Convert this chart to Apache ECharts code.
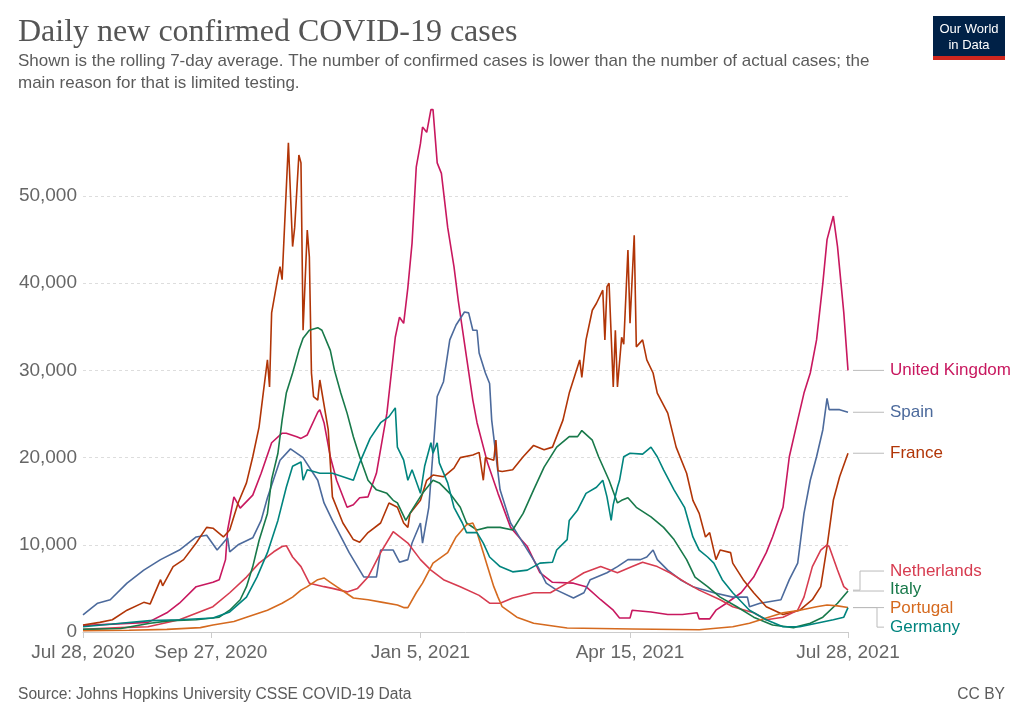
<!DOCTYPE html>
<html><head><meta charset="utf-8">
<script src="https://cdn.jsdelivr.net/npm/echarts@6/dist/echarts.min.js"></script>
<style>html,body{margin:0;padding:0;background:#fff}#c{width:1024px;height:723px}</style>
</head><body><div id="c"></div>
<script>
// x = days since Jul 28, 2020 ; y = 7-day average of daily new cases
const tickDays = [0, 61, 161, 261, 365];
const tickLabels = ['Jul 28, 2020', 'Sep 27, 2020', 'Jan 5, 2021', 'Apr 15, 2021', 'Jul 28, 2021'];
const seriesNames = ['United Kingdom', 'Spain', 'France', 'Netherlands', 'Italy', 'Portugal', 'Germany'];

const ukData = [[0,750],[14,900],[31,1100],[40,2200],[46,3300],[54,5200],[62,5700],[65,6000],[68,8300],[69,11700],[72,15500],[75,14200],[81,15700],[85,18200],[90,21700],[95,22800],[97,22800],[102,22400],[104,22200],[107,22600],[112,25200],[113,25500],[115,24000],[118,20100],[121,17400],[126,14300],[129,14600],[132,15400],[136,15500],[140,18200],[145,25100],[149,33800],[151,36100],[153,35400],[155,39500],[157,44600],[159,53300],[161,56000],[162,57900],[164,57300],[166,59900],[167,59900],[169,53800],[171,52600],[174,46400],[177,41900],[179,38100],[183,31500],[186,26600],[188,24000],[193,19400],[198,15900],[204,12000],[209,10600],[212,9800],[218,6800],[224,5700],[234,5600],[240,5200],[247,3700],[253,2500],[256,1600],[261,1600],[262,2500],[271,2300],[279,2000],[286,2000],[293,2200],[294,1500],[299,1500],[302,2500],[307,3300],[314,4500],[320,6300],[326,9100],[329,10900],[334,14300],[337,20100],[341,24300],[344,27400],[347,29700],[350,33500],[353,40000],[355,45000],[358,47700],[360,44200],[363,36600],[365,30000]];

const spainData = [[0,1950],[7,3300],[13,3700],[21,5600],[29,7100],[37,8300],[46,9400],[54,10900],[59,11100],[64,9400],[69,10800],[70,9200],[74,10000],[81,10800],[85,12800],[88,15400],[94,19700],[99,21000],[105,20000],[112,17400],[115,14800],[119,12800],[127,9100],[134,6300],[140,6300],[142,9400],[148,9400],[151,8000],[155,8300],[157,10200],[161,12500],[162,10200],[165,14300],[169,27000],[172,28700],[175,33500],[178,35200],[182,36700],[184,36600],[186,34600],[188,34600],[189,32000],[192,29700],[194,28500],[195,24300],[199,16300],[204,12500],[210,10200],[217,7500],[221,5600],[226,4800],[234,3900],[239,4500],[242,6000],[250,6800],[255,7500],[260,8300],[266,8300],[269,8600],[272,9400],[274,8300],[279,7100],[285,6000],[291,5200],[301,4500],[310,4000],[317,4000],[318,2900],[323,3300],[333,3700],[337,6000],[341,7900],[344,13600],[347,17400],[350,20100],[353,23200],[355,26800],[356,25500],[361,25500],[365,25200]];

const franceData = [[0,800],[8,1100],[14,1400],[21,2500],[29,3400],[32,3200],[37,6000],[38,5300],[43,7500],[48,8300],[54,10200],[59,12000],[62,11900],[67,10900],[70,11700],[74,14800],[78,17100],[81,20100],[84,23500],[86,27400],[88,31200],[89,28100],[90,36600],[93,40700],[94,41900],[95,40400],[98,56100],[100,44200],[101,46400],[103,54700],[104,53800],[105,34600],[107,46100],[108,43000],[109,29700],[110,27000],[112,26600],[113,28900],[117,23200],[119,15500],[124,12500],[129,10600],[132,10300],[136,11400],[142,12500],[146,14800],[150,14300],[153,12500],[155,12000],[156,13600],[161,15100],[164,17400],[167,18000],[172,17800],[177,18800],[180,20000],[186,20300],[189,20600],[191,17400],[192,20000],[196,19700],[197,22000],[198,18500],[200,18400],[205,18600],[210,20100],[215,21400],[220,20900],[224,21200],[229,24300],[232,27400],[237,31200],[238,29200],[240,33500],[243,36900],[245,37700],[248,39200],[249,33500],[250,39600],[251,40000],[253,28100],[254,34600],[255,28100],[257,33800],[258,33000],[260,43800],[261,35400],[263,45500],[264,32700],[267,33500],[269,31200],[272,29700],[274,27400],[279,25100],[283,21200],[288,18200],[291,15100],[294,13600],[297,10900],[299,11400],[302,8300],[304,9400],[309,9100],[310,7900],[315,6000],[320,4500],[326,2900],[334,2000],[342,2500],[348,3700],[352,5200],[355,9800],[358,15100],[361,17800],[365,20500]];

const netherlandsData = [[0,300],[18,500],[31,600],[46,1400],[62,2900],[70,4500],[78,6300],[84,7900],[91,9200],[95,9800],[97,9900],[100,8600],[104,7500],[108,5600],[115,5200],[119,5000],[126,4600],[131,5000],[136,6300],[142,9100],[148,11500],[155,10200],[161,8300],[166,7100],[172,6000],[180,5200],[189,4200],[194,3300],[199,3300],[205,3900],[215,4500],[223,4500],[231,5600],[239,6800],[247,7500],[255,6800],[262,7500],[267,8000],[274,7500],[280,6800],[288,5600],[294,4800],[304,3700],[310,2900],[320,2200],[326,1400],[334,1700],[341,2500],[344,4000],[348,7500],[352,9400],[355,10000],[356,9800],[360,7100],[363,5200],[365,4800]];

const italyData = [[0,300],[18,400],[32,1000],[42,1300],[54,1400],[65,1700],[70,2500],[75,3700],[78,5200],[81,7500],[84,10500],[88,13600],[90,17500],[93,20500],[95,24300],[97,27400],[100,29700],[103,32300],[105,33700],[108,34600],[112,34900],[114,34600],[118,32300],[120,30000],[123,27400],[126,25100],[129,22400],[132,20100],[136,17400],[140,16300],[145,15900],[148,15100],[150,14800],[154,12800],[157,14000],[162,15900],[167,17400],[170,17100],[175,15900],[180,14300],[183,12500],[188,11700],[193,12000],[199,12000],[205,11700],[210,13600],[215,16300],[220,18900],[226,21200],[232,22400],[236,22400],[238,23100],[243,22000],[246,20100],[251,17400],[255,14800],[257,15100],[260,15400],[264,14300],[271,13200],[277,12000],[282,10600],[288,8300],[292,6300],[298,5200],[304,4000],[312,2900],[320,1700],[329,800],[339,500],[347,1000],[353,1700],[360,3300],[365,4700]];

const portugalData = [[0,150],[22,200],[40,300],[56,500],[62,800],[72,1200],[78,1700],[88,2500],[95,3300],[100,4000],[104,4800],[107,5200],[112,6000],[115,6200],[118,5700],[121,5200],[129,3900],[136,3700],[143,3400],[150,3100],[153,2800],[155,2800],[159,4500],[162,5600],[167,7900],[174,9100],[178,10900],[183,12300],[186,12500],[188,11400],[191,9100],[193,7500],[196,5200],[198,4000],[200,2900],[207,1700],[215,1000],[231,460],[262,350],[294,250],[310,600],[318,1000],[326,1600],[334,2200],[342,2500],[350,2900],[355,3100],[360,3000],[365,2800]];

const germanyData = [[0,600],[18,1000],[32,1300],[46,1400],[62,1600],[70,2300],[78,4000],[83,6300],[88,9100],[93,12800],[97,16600],[100,19000],[104,19500],[105,17400],[107,18600],[113,18200],[119,18200],[124,17800],[129,17400],[132,19400],[137,22200],[142,24000],[146,24700],[149,25700],[150,21200],[153,19700],[155,17400],[157,18600],[161,15900],[163,19000],[166,21700],[167,20500],[169,21700],[170,19400],[174,17100],[177,14300],[181,12500],[183,11400],[188,11400],[191,10200],[194,8600],[199,7500],[205,6900],[212,7100],[218,7900],[224,8000],[226,9400],[231,10600],[232,12800],[236,14000],[240,15900],[245,16600],[248,17400],[250,15500],[252,12800],[253,14600],[255,16600],[256,17400],[258,20100],[261,20500],[267,20400],[271,21200],[274,20100],[277,18600],[282,16300],[287,14300],[291,10900],[294,9400],[298,8600],[301,7900],[305,6000],[310,4500],[318,2500],[326,1400],[334,600],[342,600],[350,1000],[358,1400],[363,1700],[365,2800]];

const seriesValues = [ukData, spainData, franceData, netherlandsData, italyData, portugalData, germanyData];
const seriesColors = ['#c8185f', '#4c6a9c', '#b13507', '#d73c50', '#18794a', '#d56a1f', '#00847e'];

const SANS = '"Liberation Sans", Arial, sans-serif';
const SERIF = '"Liberation Serif", "Times New Roman", serif';
const chart = echarts.init(document.getElementById('c'), null, {renderer: 'canvas'});

const option = {
  animation: false,
  backgroundColor: '#fff',
  grid: {left: 83, right: 176, top: 196, bottom: 91},
  xAxis: {
    type: 'value', min: 0, max: 365,
    splitLine: {show: false},
    axisLine: {show: true, lineStyle: {color: '#cccccc', width: 1}},
    axisTick: {show: true, customValues: tickDays, length: 6, lineStyle: {color: '#cccccc'}},
    axisLabel: {customValues: tickDays, formatter: v => tickLabels[tickDays.indexOf(v)] || '',
      color: '#666', fontSize: 19, fontFamily: SANS, margin: 11}
  },
  yAxis: {
    type: 'value', min: 0, max: 50000, interval: 10000,
    axisLine: {show: false}, axisTick: {show: false},
    splitLine: {show: true, lineStyle: {color: '#dddddd', type: [3, 3], width: 1}},
    axisLabel: {formatter: v => v.toLocaleString('en-US'), color: '#666', fontSize: 19, fontFamily: SANS, margin: 6}
  },
  series: seriesNames.map((n, i) => ({
    type: 'line', name: n, data: seriesValues[i], showSymbol: false, clip: false, silent: true,
    lineStyle: {width: 1.6, color: seriesColors[i]}, itemStyle: {color: seriesColors[i]}
  }))
};
chart.setOption(option);

// end labels with leader lines, placed from the data end points
const gap = 18.7, labelX = 890;
const items = seriesNames.map((n, i) => {
  const last = seriesValues[i][seriesValues[i].length - 1];
  const p = chart.convertToPixel({gridIndex: 0}, last);
  return {name: n, color: seriesColors[i], ex: p[0], ey: p[1], ideal: p[1], idx: i};
});
items.sort((a, b) => a.ideal - b.ideal || a.idx - b.idx);
let clusters = items.map(it => ({items: [it], top: it.ideal}));
let merged = true;
while (merged) {
  merged = false;
  for (let i = 0; i < clusters.length - 1; i++) {
    const a = clusters[i], b = clusters[i + 1];
    if (a.top + a.items.length * gap > b.top) {
      const all = a.items.concat(b.items);
      const mean = all.reduce((s, x) => s + x.ideal, 0) / all.length;
      clusters.splice(i, 2, {items: all, top: mean - (all.length - 1) * gap / 2});
      merged = true; break;
    }
  }
}
clusters.forEach(c => c.items.forEach((it, k) => { it.y = c.top + k * gap; }));

const graphics = [];
items.forEach(it => {
  let pts;
  if (Math.abs(it.y - it.ey) < 1.5) {
    pts = [[it.ex + 5, it.ey], [labelX - 6, it.ey]];
  } else {
    const bx = it.y < it.ey ? it.ex + 12 : it.ex + 29;
    pts = [[it.ex + 5, it.ey], [bx, it.ey], [bx, it.y], [labelX - 6, it.y]];
  }
  graphics.push({type: 'polyline', shape: {points: pts}, style: {stroke: '#bbbbbb', lineWidth: 1, fill: null}, silent: true});
  graphics.push({type: 'text', x: labelX, y: it.y, style: {text: it.name, fill: it.color, font: '17px ' + SANS, verticalAlign: 'middle', align: 'left'}});
});

// header, logo and footer
graphics.push({type: 'text', x: 18, y: 33, style: {text: 'Daily new confirmed COVID-19 cases', fill: '#555', font: '32px ' + SERIF, verticalAlign: 'middle'}});
graphics.push({type: 'text', x: 18, y: 61, style: {text: 'Shown is the rolling 7-day average. The number of confirmed cases is lower than the number of actual cases; the', fill: '#5b5b5b', font: '17px ' + SANS, verticalAlign: 'middle'}});
graphics.push({type: 'text', x: 18, y: 83, style: {text: 'main reason for that is limited testing.', fill: '#5b5b5b', font: '17px ' + SANS, verticalAlign: 'middle'}});
graphics.push({type: 'rect', shape: {x: 933, y: 16, width: 72, height: 44}, style: {fill: '#002147'}, silent: true});
graphics.push({type: 'rect', shape: {x: 933, y: 56, width: 72, height: 4}, style: {fill: '#ce261e'}, silent: true});
graphics.push({type: 'text', x: 969, y: 29, style: {text: 'Our World', fill: '#fff', font: '13px ' + SANS, align: 'center', verticalAlign: 'middle'}});
graphics.push({type: 'text', x: 969, y: 45, style: {text: 'in Data', fill: '#fff', font: '13px ' + SANS, align: 'center', verticalAlign: 'middle'}});
graphics.push({type: 'text', x: 18, y: 695, style: {text: 'Source: Johns Hopkins University CSSE COVID-19 Data', fill: '#5b5b5b', font: '15.6px ' + SANS, verticalAlign: 'middle'}});
graphics.push({type: 'text', x: 1005, y: 695, style: {text: 'CC BY', fill: '#5b5b5b', font: '15.6px ' + SANS, align: 'right', verticalAlign: 'middle'}});

chart.setOption({graphic: graphics});
</script>
</body></html>
